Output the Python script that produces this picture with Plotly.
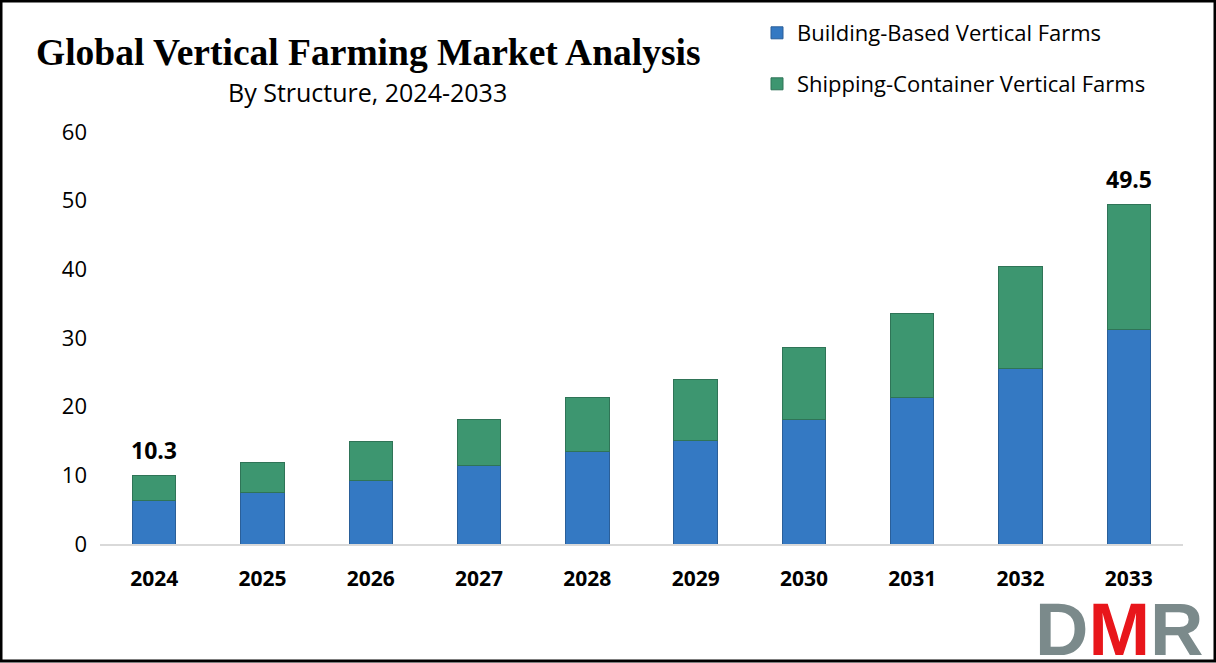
import plotly.graph_objects as go

years = ["2024", "2025", "2026", "2027", "2028", "2029", "2030", "2031", "2032", "2033"]
building = [6.3, 7.5, 9.3, 11.4, 13.4, 15.1, 18.1, 21.3, 25.5, 31.3]
container = [3.7, 4.4, 5.6, 6.8, 8.0, 8.9, 10.5, 12.3, 14.9, 18.2]
total_labels = ["10.3", "", "", "", "", "", "", "", "", "49.5"]
y_ticks = [0, 10, 20, 30, 40, 50, 60]

totals = [b + c for b, c in zip(building, container)]

W, H = 1216, 663
L, R, T, B = 100, 33, 132, 119
pw, ph = W - L - R, H - T - B

def px(x):
    return (x - L) / pw

def py(y):
    return (H - B - y) / ph

fig = go.Figure()
fig.add_trace(go.Bar(
    x=years, y=building, name="Building-Based Vertical Farms",
    marker=dict(color="#3479c3", line=dict(color="#2a5f99", width=1)),
    width=0.4, legend="legend",
))
fig.add_trace(go.Bar(
    x=years, y=container, name="Shipping-Container Vertical Farms",
    marker=dict(color="#3d9670", line=dict(color="#2f7457", width=1)),
    width=0.4, legend="legend2",
))

for i, (tot, lab) in enumerate(zip(totals, total_labels)):
    if lab:
        fig.add_annotation(
            x=i, y=tot, text=f"<b>{lab}</b>", showarrow=False,
            xanchor="center", yanchor="middle", yshift=25,
            font=dict(family="Open Sans", size=23, color="#000"),
        )

fig.update_layout(
    width=W, height=H,
    margin=dict(l=L, r=R, t=T, b=B),
    barmode="stack",
    plot_bgcolor="white", paper_bgcolor="white",
    showlegend=True,
    legend=dict(x=px(757), y=py(33), xanchor="left", yanchor="middle",
                font=dict(family="Open Sans", size=22, color="#000"),
                bgcolor="rgba(0,0,0,0)", itemwidth=30),
    legend2=dict(x=px(757), y=py(84), xanchor="left", yanchor="middle",
                 font=dict(family="Open Sans", size=22, color="#000"),
                 bgcolor="rgba(0,0,0,0)", itemwidth=30),
    xaxis=dict(
        type="category", range=[-0.5, len(years) - 0.5],
        showgrid=False, showline=True, linecolor="#d9d9d9", linewidth=2,
        tickfont=dict(family="Open Sans", size=21, color="#000", weight="bold"),
        ticks="", ticklabelstandoff=15,
    ),
    yaxis=dict(
        range=[0, 60], tickvals=y_ticks, showgrid=False, zeroline=False,
        showline=False, ticks="",
        tickfont=dict(family="Open Sans", size=22, color="#000"),
        ticklabelstandoff=12,
    ),
    bargap=0.6,
)

fig.add_annotation(
    text="<b>Global Vertical Farming Market Analysis</b>",
    xref="paper", yref="paper", x=px(368), y=py(52),
    xanchor="center", yanchor="middle", showarrow=False,
    font=dict(family="Liberation Serif", size=37.5, color="#000"),
)
fig.add_annotation(
    text="By Structure, 2024-2033",
    xref="paper", yref="paper", x=px(367), y=py(92),
    xanchor="center", yanchor="middle", showarrow=False,
    font=dict(family="Open Sans", size=25, color="#000"),
)
fig.add_annotation(
    text="<span style='color:#7b8a8b'>D</span><span style='color:#e8161b'>M</span><span style='color:#7b8a8b'>R</span>",
    xref="paper", yref="paper", x=px(1119), y=py(629),
    xanchor="center", yanchor="middle", showarrow=False,
    font=dict(family="Liberation Sans", size=74, weight="bold"),
)

fig.add_shape(
    type="rect", xref="paper", yref="paper",
    x0=px(1), x1=px(W - 1), y0=py(H - 2), y1=py(1),
    line=dict(color="#000", width=3), fillcolor="rgba(0,0,0,0)", layer="above",
)

fig.write_html("out.html", config={"displayModeBar": False},
               post_script="document.body.style.margin='0';")
